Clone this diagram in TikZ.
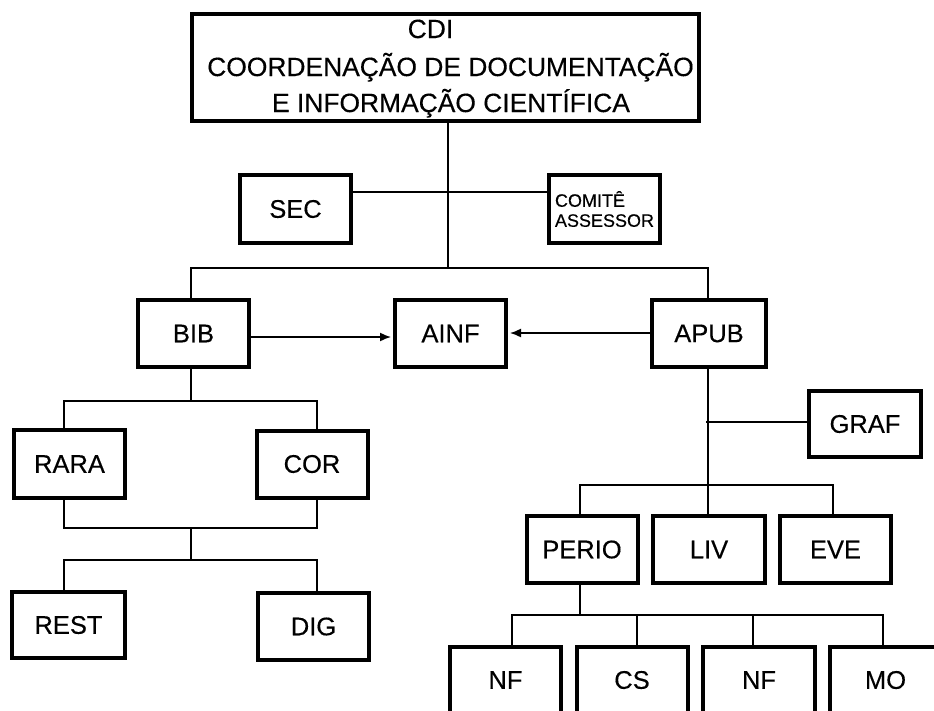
\documentclass[tikz,border=0pt]{standalone}
\usepackage{fontspec}
\setmainfont{Liberation Sans}
\newfontfamily\heavy{Liberation Sans}[FakeBold=0.35]
\usetikzlibrary{arrows.meta}
\begin{document}
\begin{tikzpicture}[x=1pt,y=-1pt,
  box/.style={draw, line width=4pt, fill=white, inner sep=0pt,
    minimum width=111pt, minimum height=67pt,
    font=\heavy\fontsize{25.5}{30}\selectfont},
  lbl/.style={inner sep=0pt, anchor=base, font=\heavy\fontsize{26.4}{30}\selectfont},
  conn/.style={line width=1.5pt},
  arr/.style={conn, -{Latex[length=11pt,width=9pt]}, shorten >=2pt}]
\clip (0,0) rectangle (934,710);
\fill[white] (0,0) rectangle (934,710);

% top box
\node[box, minimum width=507pt, minimum height=107pt] (cdi) at (445.5,67.5) {};
\node[lbl] (cdiA) at (430.5,38) {CDI};
\node[lbl] (cdiB) at (450.5,76) {COORDENAÇÃO DE DOCUMENTAÇÃO};
\node[lbl] (cdiC) at (451,112) {E INFORMAÇÃO CIENTÍFICA};

% second level
\node[box, minimum height=68pt] (sec) at (295.5,209) {SEC};
\node[box, minimum height=68pt, align=left, font=\heavy\fontsize{18}{20}\selectfont] (com) at (604.5,209) {COMITÊ\\ASSESSOR};

\node[box] (bib) at (193.5,333.5) {BIB};
\node[box] (ainf) at (450.5,333.5) {AINF};
\node[box, minimum width=114pt] (apub) at (709,333.5) {APUB};

% BIB subtree
\node[box, minimum height=68pt] (rara) at (69.5,464) {RARA};
\node[box] (cor) at (312,464) {COR};
\node[box, minimum width=113pt, minimum height=66pt] (rest) at (68.5,625) {REST};
\node[box] (dig) at (313.5,626.5) {DIG};

% APUB subtree
\node[box, minimum width=112pt, minimum height=66pt] (graf) at (865,424) {GRAF};
\node[box] (perio) at (582,549.5) {PERIO};
\node[box, minimum width=112pt] (liv) at (709,549.5) {LIV};
\node[box] (eve) at (835.5,549.5) {EVE};
\node[box, minimum height=66pt] (nfa) at (505.5,680) {NF};
\node[box] (cs) at (632,680) {CS};
\node[box, minimum width=112pt] (nfb) at (759,680) {NF};
\node[box] (mo) at (885.5,680) {MO};

% helper coordinates
\coordinate (xT) at (448,0);
\coordinate (xB) at (191,0);
\coordinate (xA) at (708,0);
\coordinate (xL) at (64,0);
\coordinate (xR) at (317,0);
\coordinate (xP) at (580,0);
\coordinate (xE) at (833,0);
\coordinate (x1) at (512,0);
\coordinate (x2) at (637,0);
\coordinate (x3) at (753,0);
\coordinate (x4) at (883,0);
\coordinate (yS) at (0,192);
\coordinate (yT) at (0,268);
\coordinate (yA1) at (0,337);
\coordinate (yA2) at (0,333);
\coordinate (yB1) at (0,401);
\coordinate (yB2) at (0,528);
\coordinate (yB3) at (0,560);
\coordinate (yG) at (0,422);
\coordinate (yP1) at (0,485);
\coordinate (yP2) at (0,615);

% top connectors
\draw[conn] (cdi.south -| xT) -- (xT |- yT);
\draw[conn] (sec.east |- yS) -- (com.west |- yS);
\draw[conn] (bib.north -| xB) -- (xB |- yT) -- (xA |- yT) -- (apub.north -| xA);

% arrows to AINF
\draw[arr] (bib.east |- yA1) -- (ainf.west |- yA1);
\draw[arr] (apub.west |- yA2) -- (ainf.east |- yA2);

% BIB subtree
\draw[conn] (bib.south -| xB) -- (xB |- yB1);
\draw[conn] (rara.north -| xL) -- (xL |- yB1) -- (xR |- yB1) -- (cor.north -| xR);
\draw[conn] (rara.south -| xL) -- (xL |- yB2) -- (xR |- yB2) -- (cor.south -| xR);
\draw[conn] (xB |- yB2) -- (xB |- yB3);
\draw[conn] (rest.north -| xL) -- (xL |- yB3) -- (xR |- yB3) -- (dig.north -| xR);

% APUB subtree
\draw[conn] (apub.south -| xA) -- (liv.north -| xA);
\draw[conn] (graf.west |- yG) -- ([xshift=-2pt]xA |- yG);
\draw[conn] (perio.north -| xP) -- (xP |- yP1) -- (xE |- yP1) -- (eve.north -| xE);
\draw[conn] (perio.south -| xP) -- (xP |- yP2);
\draw[conn] (nfa.north -| x1) -- (x1 |- yP2) -- (x4 |- yP2) -- (mo.north -| x4);
\draw[conn] (cs.north -| x2) -- (x2 |- yP2);
\draw[conn] (nfb.north -| x3) -- (x3 |- yP2);
\end{tikzpicture}
\end{document}
